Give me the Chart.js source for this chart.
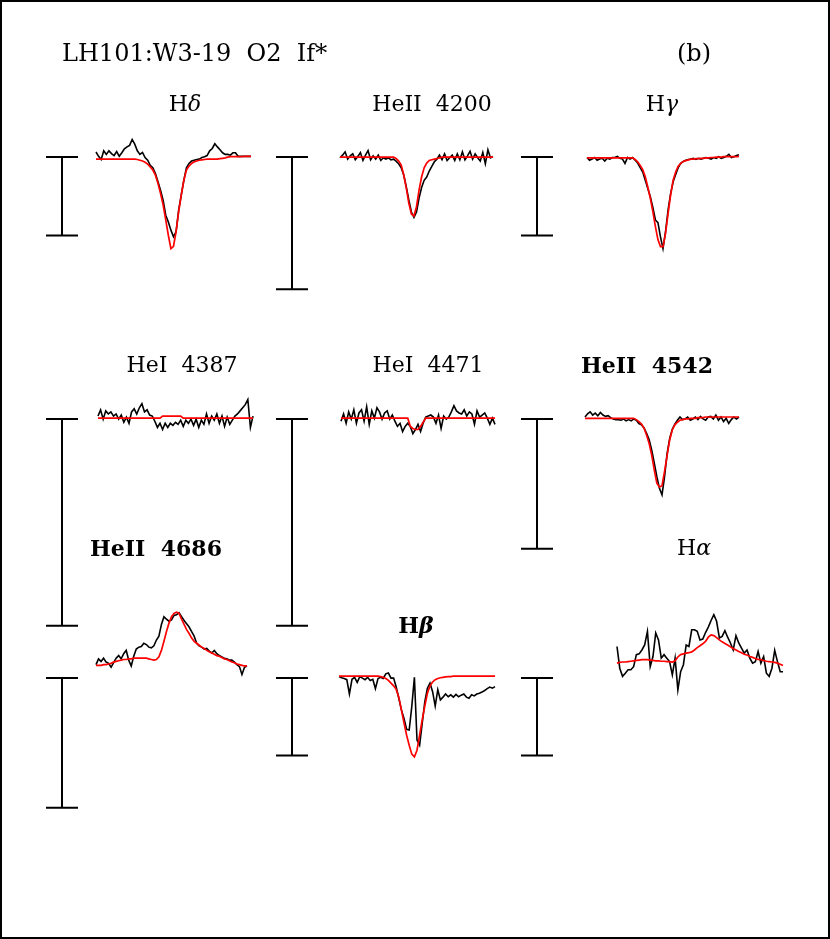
<!DOCTYPE html>
<html>
<head>
<meta charset="utf-8">
<title>LH101:W3-19 O2 If*</title>
<script src="https://cdn.jsdelivr.net/npm/chart.js@4/dist/chart.umd.min.js"></script>
<style>
  html, body { margin: 0; padding: 0; background: #fff; }
  #fig { position: relative; width: 830px; height: 939px; overflow: hidden; font-family: "DejaVu Serif", serif; color: #000; }
  #fig canvas { position: absolute; }
  #frame { position: absolute; left: 0; top: 0; width: 830px; height: 939px; box-sizing: border-box; border: 2px solid #000; pointer-events: none; }
  .lbl { position: absolute; white-space: pre; line-height: 1; }
</style>
</head>
<body>
<div id="fig"><div id="frame"></div></div>
<script>
'use strict';

// ─── Data: normalised flux, sampled every 0.5 Å from -15 to +15 Å ───────────
const WAVE_MIN = -15, WAVE_MAX = 15, WAVE_STEP = 0.5;
const BAR_SIZE = 0.2;   // vertical scale bar, in continuum units

const HD_OBS = [1.015,1.004,0.996,1.018,1.009,1.018,1.011,1.006,1.016,1.004,
  1.013,1.023,1.028,1.032,1.047,1.035,1.018,1.009,1.014,1.001,
  0.994,0.981,0.975,0.960,0.939,0.917,0.892,0.854,0.837,0.816,
  0.799,0.812,0.867,0.905,0.943,0.975,0.986,0.992,0.994,0.996,
  0.997,1.001,1.003,1.006,1.018,1.024,1.036,1.028,1.021,1.013,
  1.009,1.009,1.007,1.013,1.013,1.004,1.004,1.004,1.004,1.004,1.004];
const HD_FIT = [0.997,0.997,0.997,0.997,0.997,0.997,0.997,0.997,0.997,0.997,
  0.997,0.997,0.997,0.997,0.997,0.997,0.996,0.994,0.992,0.989,
  0.984,0.977,0.969,0.956,0.935,0.909,0.880,0.842,0.803,0.769,
  0.775,0.812,0.863,0.905,0.943,0.969,0.979,0.986,0.990,0.992,
  0.994,0.995,0.996,0.997,0.997,0.997,0.997,0.997,0.998,0.999,
  1.000,1.002,1.003,1.003,1.003,1.003,1.003,1.004,1.004,1.004,1.004];

const HE4200_OBS = [0.999,1.003,1.008,0.997,1.002,1.005,0.996,1.001,1.007,0.995,
  1.003,1.010,0.996,1.002,0.997,1.003,0.995,0.999,0.997,0.999,
  0.996,0.997,0.994,0.990,0.984,0.973,0.955,0.935,0.917,0.909,
  0.917,0.938,0.954,0.965,0.970,0.979,0.986,0.993,0.997,1.003,
  0.996,1.005,0.995,0.999,1.003,0.995,1.005,0.996,1.008,0.996,
  1.002,1.009,0.997,1.005,0.999,0.994,1.007,0.990,1.011,0.999,1.001];
const HE4200_FIT = [1.000,1.000,1.000,1.000,1.000,1.000,1.000,1.000,1.000,1.000,
  1.000,1.000,1.000,1.000,1.000,1.000,1.000,1.000,1.000,1.000,
  1.000,1.000,0.998,0.994,0.988,0.973,0.953,0.930,0.914,0.911,
  0.925,0.950,0.970,0.984,0.991,0.995,0.996,0.997,0.998,0.999,
  1.000,1.000,1.000,1.000,1.000,1.000,1.000,1.000,1.000,1.000,
  1.000,1.000,1.000,1.000,1.000,1.000,1.000,1.000,1.000,1.000,1.000];

const HG_OBS = [1.001,0.994,0.997,1.001,0.994,0.997,0.999,0.992,0.999,0.997,
  1.001,1.001,1.004,0.999,0.997,0.986,1.001,0.997,1.001,0.994,
  0.987,0.975,0.964,0.943,0.922,0.901,0.874,0.842,0.835,0.799,
  0.769,0.812,0.867,0.909,0.939,0.958,0.975,0.986,0.991,0.994,
  0.996,0.997,0.999,0.996,0.999,0.997,0.999,1.001,0.999,0.997,
  1.001,0.999,1.003,0.999,1.001,1.004,1.009,1.001,1.003,1.006,1.008];
const HG_FIT = [1.000,1.000,1.000,1.000,1.000,1.000,1.000,1.000,1.000,1.000,
  1.000,1.000,1.000,1.000,1.000,1.000,1.000,1.000,1.000,0.996,
  0.990,0.981,0.970,0.952,0.926,0.897,0.863,0.825,0.792,0.774,
  0.774,0.808,0.858,0.905,0.943,0.964,0.979,0.986,0.991,0.993,
  0.995,0.997,0.997,0.998,0.998,0.999,0.999,1.000,1.000,1.001,
  1.001,1.002,1.002,1.002,1.003,1.003,1.003,1.003,1.003,1.003,1.004];

const HEI4387_OBS = [1.002,1.008,0.999,1.007,1.004,1.006,1.002,1.004,0.999,1.003,
  0.996,1.001,0.995,1.006,1.009,1.004,1.010,1.014,1.006,1.008,
  1.003,1.002,0.997,0.991,0.995,0.989,0.995,0.991,0.995,0.993,
  0.996,0.994,0.998,0.992,0.998,0.995,0.999,0.993,0.999,0.991,
  0.998,0.994,1.004,0.995,1.002,0.998,1.004,0.995,1.002,0.992,
  1.001,0.994,0.998,1.002,1.004,1.007,1.010,1.013,1.018,0.991,1.002];
const HEI4387_FIT = [1.000,1.000,1.000,1.000,1.000,1.000,1.000,1.000,1.000,1.000,
  1.000,1.000,1.000,1.000,1.000,1.000,1.000,1.000,1.000,1.000,
  1.000,1.000,1.000,1.000,1.000,1.002,1.002,1.002,1.002,1.002,
  1.002,1.002,1.002,1.000,1.000,1.000,1.000,1.000,1.000,1.000,
  1.000,1.000,1.000,1.000,1.000,1.000,1.000,1.000,1.000,1.000,
  1.000,1.000,1.000,1.000,1.000,1.000,1.000,1.000,1.000,1.000,1.000];

const HEI4471_OBS = [0.997,1.004,0.995,1.006,0.999,1.008,0.995,1.005,1.008,0.997,
  1.011,0.994,1.007,1.000,1.010,1.006,0.999,1.005,1.007,0.999,
  1.003,0.997,0.992,0.995,0.987,0.992,0.995,0.992,0.985,0.989,
  0.994,0.987,0.995,1.001,1.002,1.003,1.001,0.995,1.003,0.990,
  1.002,0.999,1.001,1.006,1.012,1.007,1.005,1.004,1.008,1.002,
  1.006,1.004,0.994,1.007,1.001,1.003,1.005,1.000,0.994,1.000,0.994];
const HEI4471_FIT = [1.000,1.000,1.000,1.000,1.000,1.000,1.000,1.000,1.000,1.000,
  1.000,1.000,1.000,1.000,1.000,1.000,1.000,1.000,1.000,1.000,
  1.000,1.000,1.000,1.000,1.000,1.000,1.000,0.992,0.990,0.989,
  0.989,0.992,0.996,1.000,1.000,1.000,1.000,1.000,1.000,1.000,
  1.000,1.000,1.000,1.000,1.000,1.000,1.000,1.000,1.000,1.000,
  1.000,1.000,1.000,1.000,1.000,1.000,1.000,1.000,1.000,1.000,1.000];

const HE4542_OBS = [1.002,1.007,1.010,1.005,1.008,1.004,1.009,1.005,1.003,1.004,
  1.001,0.999,0.998,0.998,0.997,0.999,0.996,0.998,0.996,0.999,
  0.997,0.992,0.990,0.985,0.977,0.967,0.951,0.931,0.910,0.892,
  0.882,0.910,0.946,0.969,0.983,0.991,0.997,1.002,0.998,0.999,
  1.002,0.997,0.999,1.002,0.998,1.003,0.999,0.997,1.002,1.003,
  0.999,1.005,0.997,1.002,0.995,1.000,0.992,0.998,1.002,0.999,1.002];
const HE4542_FIT = [1.000,1.000,1.000,1.000,1.000,1.000,1.000,1.000,1.000,1.000,
  1.000,1.000,1.000,1.000,1.000,1.000,1.000,1.000,1.000,1.000,
  0.998,0.995,0.991,0.985,0.974,0.961,0.943,0.920,0.900,0.894,
  0.896,0.918,0.943,0.967,0.982,0.990,0.994,0.997,0.998,0.999,
  0.999,1.000,1.000,1.000,1.001,1.001,1.001,1.002,1.002,1.002,
  1.002,1.002,1.002,1.002,1.002,1.002,1.002,1.002,1.002,1.002,1.002];

const HE4686_OBS = [1.001,1.010,1.006,1.011,1.005,1.003,0.997,1.004,1.011,1.015,
  1.010,1.018,1.023,1.008,0.999,1.014,1.025,1.028,1.029,1.034,
  1.032,1.028,1.027,1.030,1.039,1.045,1.063,1.075,1.071,1.068,
  1.070,1.077,1.078,1.081,1.075,1.069,1.064,1.059,1.052,1.045,
  1.034,1.030,1.028,1.025,1.026,1.022,1.019,1.023,1.018,1.015,
  1.013,1.011,1.010,1.008,1.008,1.005,1.001,0.998,0.986,0.997,0.999];
const HE4686_FIT = [1.000,1.000,1.000,1.001,1.001,1.002,1.003,1.005,1.006,1.007,
  1.008,1.009,1.009,1.010,1.010,1.011,1.011,1.011,1.011,1.011,
  1.011,1.010,1.009,1.008,1.009,1.013,1.023,1.037,1.052,1.065,
  1.075,1.080,1.082,1.080,1.071,1.063,1.055,1.049,1.042,1.037,
  1.034,1.031,1.028,1.026,1.023,1.021,1.019,1.017,1.015,1.014,
  1.012,1.010,1.009,1.007,1.005,1.004,1.002,1.001,1.000,0.999,0.999];

const HB_OBS = [0.999,0.996,0.994,0.991,0.954,0.992,0.997,0.984,0.999,0.995,
  0.991,0.997,0.989,0.992,0.968,0.994,0.997,0.994,1.006,1.008,
  0.995,0.995,0.972,0.943,0.913,0.891,0.863,0.861,0.922,0.997,
  0.835,0.822,0.878,0.934,0.969,0.982,0.960,0.923,0.965,0.939,
  0.946,0.954,0.947,0.952,0.946,0.953,0.947,0.951,0.954,0.946,
  0.943,0.952,0.949,0.954,0.956,0.959,0.963,0.968,0.972,0.969,0.973];
const HB_FIT = [1.000,1.000,1.000,1.000,1.000,1.000,1.000,1.000,1.000,1.000,
  1.000,1.000,1.000,1.000,1.000,1.000,0.999,0.997,0.994,0.989,
  0.982,0.975,0.966,0.946,0.913,0.880,0.848,0.822,0.799,0.792,
  0.809,0.848,0.887,0.923,0.956,0.975,0.985,0.991,0.994,0.996,
  0.997,0.998,0.999,0.999,1.000,1.000,1.000,1.000,1.000,1.000,
  1.000,1.000,1.000,1.000,1.000,1.000,1.000,1.000,1.000,1.000,1.000];

const HA_OBS = [1.043,0.987,0.966,0.974,0.983,0.983,0.991,1.022,1.024,1.034,
  1.047,1.082,0.991,1.017,1.078,1.060,1.013,1.022,1.013,1.004,
  0.970,1.013,0.931,0.978,0.996,1.047,1.043,1.086,1.086,1.082,
  1.060,1.062,1.079,1.093,1.110,1.125,1.108,1.065,1.069,1.084,
  1.067,1.052,1.034,1.071,1.052,1.039,1.026,1.034,1.013,1.000,
  1.004,1.030,1.000,1.017,0.974,0.966,0.987,1.033,1.004,0.978,0.978];
const HA_FIT = [1.000,1.002,1.003,1.003,1.004,1.005,1.006,1.007,1.008,1.009,
  1.009,1.009,1.008,1.007,1.006,1.006,1.005,1.005,1.004,1.004,
  1.003,1.006,1.016,1.022,1.024,1.026,1.027,1.029,1.034,1.040,
  1.045,1.050,1.056,1.067,1.073,1.071,1.066,1.060,1.055,1.051,
  1.047,1.042,1.038,1.034,1.030,1.027,1.023,1.021,1.017,1.015,
  1.012,1.010,1.009,1.007,1.005,1.004,1.003,1.002,1.000,0.997,0.994];

// wavelength sampling grid shared by every panel
const WAVE = [];
for (let w = WAVE_MIN; w <= WAVE_MAX + 1e-9; w += WAVE_STEP) WAVE.push(+w.toFixed(2));

// ─── Layout (page pixels) ────────────────────────────────────────────────────
// xs/xe: spectrum extent, y1: continuum level, k: px per continuum unit
const Y_MIN = 0.74, Y_MAX = 1.15;
const PANELS = [
  {obs:HD_OBS,      fit:HD_FIT,      xs:96,  xe:251, y1:157.7, k:393.5, barX:62,  barTop:157},
  {obs:HE4200_OBS,  fit:HE4200_FIT,  xs:340, xe:493, y1:157,   k:661.7, barX:292, barTop:157},
  {obs:HG_OBS,      fit:HG_FIT,      xs:587, xe:739, y1:157.7, k:393.5, barX:537, barTop:157},
  {obs:HEI4387_OBS, fit:HEI4387_FIT, xs:98,  xe:253, y1:418.3, k:1035,  barX:62,  barTop:419},
  {obs:HEI4471_OBS, fit:HEI4471_FIT, xs:341, xe:495, y1:418.7, k:1035,  barX:292, barTop:419},
  {obs:HE4542_OBS,  fit:HE4542_FIT,  xs:585, xe:739, y1:418.3, k:648.5, barX:537, barTop:419},
  {obs:HE4686_OBS,  fit:HE4686_FIT,  xs:96,  xe:247, y1:665.7, k:648.5, barX:62,  barTop:678},
  {obs:HB_OBS,      fit:HB_FIT,      xs:339, xe:495, y1:676.3, k:386.7, barX:292, barTop:678},
  {obs:HA_OBS,      fit:HA_FIT,      xs:617, xe:783, y1:663.3, k:386.7, barX:537, barTop:678},
];

const TITLES = [
  {html:'LH101:W3-19  O2  If*', left:62,  top:41, size:24},
  {html:'(b)',                  left:677, top:41, size:24},
  {html:'H<i>δ</i>',            cx:185, top:93},
  {html:'HeII  4200',           cx:432, top:93},
  {html:'H<i>γ</i>',            cx:662, top:93},
  {html:'HeI  4387',            cx:182, top:354},
  {html:'HeI  4471',            cx:428, top:354},
  {html:'HeII  4542',           cx:647, top:354, bold:true},
  {html:'HeII  4686',           cx:156, top:537, bold:true},
  {html:'H<i>β</i>',            cx:416, top:614, bold:true},
  {html:'H<i>α</i>',            cx:694, top:537},
];

// ─── Scale bar plugin ─────────────────────────────────────────────────────────
const scaleBar = {
  id: 'scaleBar',
  afterDraw(chart, args, o) {
    const y = chart.scales.y, ctx = chart.ctx;
    const len = y.getPixelForValue(1 - BAR_SIZE) - y.getPixelForValue(1);
    ctx.save();
    ctx.strokeStyle = '#000'; ctx.lineWidth = 2;
    ctx.beginPath();
    ctx.moveTo(o.x, o.top); ctx.lineTo(o.x, o.top + len);
    ctx.moveTo(o.x - 16, o.top); ctx.lineTo(o.x + 16, o.top);
    ctx.moveTo(o.x - 16, o.top + len); ctx.lineTo(o.x + 16, o.top + len);
    ctx.stroke();
    ctx.restore();
  }
};

const fig = document.getElementById('fig');
const pts = arr => arr.map((v, i) => ({x: WAVE[i], y: v}));

PANELS.forEach(p => {
  const left = p.barX - 18;
  const top = Math.round(p.y1 - (Y_MAX - 1) * p.k);
  const w = Math.round(p.xe - left + 2);
  const h = Math.round((Y_MAX - Y_MIN) * p.k);
  const cv = document.createElement('canvas');
  cv.width = w; cv.height = h;
  cv.style.left = left + 'px'; cv.style.top = top + 'px';
  cv.style.width = w + 'px'; cv.style.height = h + 'px';
  fig.insertBefore(cv, document.getElementById('frame'));
  new Chart(cv.getContext('2d'), {
    type: 'line',
    data: {datasets: [
      {data: pts(p.fit), borderColor: '#ff0000', borderWidth: 1.7, clip: false},
      {data: pts(p.obs), borderColor: '#000000', borderWidth: 1.6, clip: false},
    ]},
    options: {
      responsive: false, animation: false, events: [],
      layout: {padding: {left: p.xs - left, right: 2, top: 0, bottom: 0}},
      elements: {point: {radius: 0}, line: {tension: 0}},
      scales: {
        x: {type: 'linear', display: false, min: WAVE_MIN, max: WAVE_MAX},
        y: {display: false, min: Y_MIN, max: Y_MAX},
      },
      plugins: {legend: {display: false}, tooltip: {enabled: false},
        scaleBar: {x: 18, top: p.barTop - top}},
    },
    plugins: [scaleBar],
  });
});

TITLES.forEach(t => {
  const d = document.createElement('div');
  d.className = 'lbl';
  d.innerHTML = t.html;
  d.style.fontSize = (t.size || 22) + 'px';
  d.style.top = t.top + 'px';
  if (t.bold) d.style.fontWeight = 'bold';
  if (t.cx != null) { d.style.left = t.cx + 'px'; d.style.transform = 'translateX(-50%)'; }
  else d.style.left = t.left + 'px';
  fig.appendChild(d);
});
</script>
</body>
</html>
